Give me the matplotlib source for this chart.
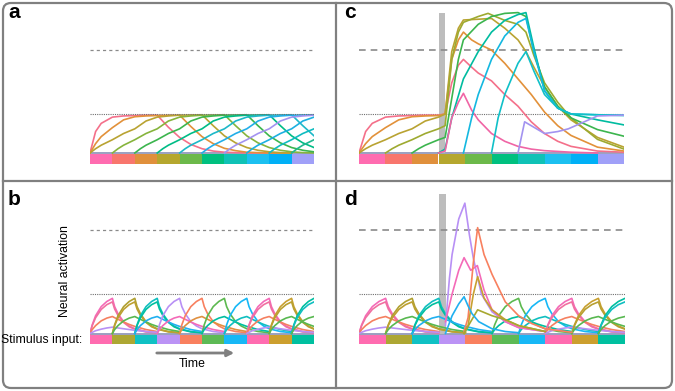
import matplotlib
matplotlib.use('Agg')
import matplotlib.pyplot as plt
from matplotlib.patches import FancyBboxPatch

plt.rcParams['font.family'] = ['Liberation Sans', 'DejaVu Sans']

# ---------------- data ----------------
# activation units: 0 = baseline, 1 = dotted threshold
DOTTED = 1.0
DASHED = 2.63

# stimulus strips (colour of each of the 10 stimuli)
strip_ac = ['#FF6CB0', '#F8766D', '#E0903C', '#B5A72E', '#6CB94A',
            '#00C07F', '#10C2B6', '#1CC0F0', '#00B0F6', '#A0A0F8']
strip_bd = ['#FF6CB0', '#ADA733', '#10C1C4', '#BB93F5', '#F9805F',
            '#5DBA55', '#17B8F6', '#FF6CB0', '#CC9F2E', '#00C0A0']

# panel a: slow neurons, values read at these offsets from each onset
a_knots = [0, 0.25, 0.5, 1, 1.5, 2, 2.5, 3, 3.5, 4, 4.5, 5, 5.5, 6, 6.5, 7, 7.5, 8, 8.5, 9]
a_onsets = [0, 0, 0, 1, 2, 3, 4, 5, 6, 7, 8, 9]
a_colors = ['#F4708A', '#E2913A', '#B9A332', '#86B43C', '#3CB54E', '#00BC86',
            '#1DB8C8', '#22AEE8', '#A393F0', '#1DB0E0', '#10BCC0', '#20B890']
a_first = [0, 0.55, 0.76, 0.92, 0.95, 0.96, 0.97, 0.97, 0.66, 0.4, 0.22, 0.11, 0.05,
           0.02, 0.01, 0, 0, 0, 0, 0]
a_second = [0, 0.24, 0.42, 0.65, 0.85, 0.93, 0.95, 0.96, 0.97, 0.97, 0.68, 0.42, 0.24,
            0.12, 0.06, 0.02, 0.01, 0, 0, 0]
a_rest = [0, 0.11, 0.2, 0.34, 0.5, 0.62, 0.82, 0.92, 0.95, 0.97, 0.975, 0.98, 0.7,
          0.44, 0.26, 0.14, 0.07, 0.03, 0.01, 0]

# panel c: activity after the distractor, per neuron (colour, x, y)
c_post = [
    ('#F4708A', [3.25, 3.5, 3.75, 3.94, 4.25, 4.5, 5.0, 5.5, 6.0, 6.5, 7.0, 7.5, 8.0, 9.0, 10],
     [1.0, 1.8, 2.25, 2.4, 2.2, 2.05, 1.85, 1.5, 1.2, 0.8, 0.5, 0.3, 0.17, 0.05, 0.02]),
    ('#E2913A', [3.25, 3.5, 3.75, 3.94, 4.25, 4.5, 5.0, 5.5, 6.0, 6.5, 7.0, 7.5, 8.0, 9.0, 10],
     [1.0, 2.4, 2.9, 3.1, 2.9, 2.8, 2.64, 2.3, 1.9, 1.5, 1.05, 0.7, 0.45, 0.15, 0.05]),
    ('#B9A332', [3.25, 3.5, 3.75, 3.94, 4.5, 5.0, 5.5, 6.0, 6.3, 6.6, 7.0, 7.5, 8.0, 9.0, 10],
     [1.0, 2.6, 3.2, 3.41, 3.43, 3.45, 3.2, 2.9, 2.6, 2.2, 1.7, 1.2, 0.85, 0.4, 0.15]),
    ('#9EAA30', [3.25, 3.5, 3.75, 3.94, 4.5, 4.87, 5.5, 6.0, 6.3, 6.6, 7.0, 7.5, 8.0, 9.0, 10],
     [0.7, 2.4, 3.1, 3.35, 3.5, 3.58, 3.4, 3.3, 3.1, 2.5, 1.8, 1.3, 0.9, 0.35, 0.1]),
    ('#3CB54E', [3.25, 3.5, 3.75, 3.94, 4.5, 5.0, 5.5, 6.0, 6.3, 6.6, 7.0, 7.5, 8.0, 9.0, 10],
     [0.4, 1.4, 2.4, 2.9, 3.3, 3.5, 3.58, 3.6, 3.5, 2.6, 1.7, 1.2, 0.9, 0.6, 0.43]),
    ('#00BCA0', [3.25, 3.5, 3.94, 4.5, 5.0, 5.5, 6.0, 6.3, 6.6, 7.0, 7.5, 8.0, 9.0, 10],
     [0.1, 0.9, 1.9, 2.6, 3.1, 3.4, 3.55, 3.6, 2.7, 1.6, 1.15, 1.0, 0.85, 0.72]),
]
c_new = [
    ('#F065A5', [3.0, 3.25, 3.5, 3.75, 3.94, 4.25, 4.5, 5.0, 5.5, 6.0, 6.5, 7.0, 8.0, 9.0],
     [0, 0.05, 0.9, 1.3, 1.53, 1.1, 0.85, 0.5, 0.3, 0.17, 0.1, 0.06, 0.02, 0]),
    ('#14B8E0', [3.94, 4.25, 4.5, 5.0, 5.5, 6.0, 6.3, 6.6, 7.0, 7.5, 8.0, 9.0, 10],
     [0, 0.9, 1.5, 2.4, 3.0, 3.35, 3.45, 2.6, 1.6, 1.15, 1.0, 0.98, 0.97]),
    ('#10C0C8', [5.0, 5.25, 5.5, 6.0, 6.3, 6.6, 7.0, 7.5, 8.0, 9.0, 10],
     [0, 0.9, 1.5, 2.3, 2.6, 2.1, 1.5, 1.15, 1.0, 0.98, 0.96]),
    ('#A393F0', [6.0, 6.25, 6.5, 7.0, 7.5, 7.9, 8.5, 9.0, 10],
     [0, 0.8, 0.7, 0.5, 0.55, 0.62, 0.8, 0.95, 0.97]),
]

# panels b and d: fast neurons, read profiles at offsets from onset
b_knots = [0, 0.1, 0.25, 0.5, 0.75, 1, 1.1, 1.25, 1.5, 1.75, 2, 2.5, 3]
b_profiles = {
    'p': [0, 0.22, 0.45, 0.68, 0.81, 0.89, 0.68, 0.5, 0.3, 0.19, 0.12, 0.05, 0.02],
    's': [0, 0.2, 0.4, 0.61, 0.73, 0.8, 0.62, 0.46, 0.28, 0.17, 0.11, 0.04, 0.02],
    't': [0, 0.1, 0.2, 0.32, 0.39, 0.43, 0.4, 0.36, 0.29, 0.23, 0.18, 0.1, 0.05],
    'w': [0, 0.03, 0.07, 0.11, 0.14, 0.16, 0.155, 0.14, 0.12, 0.1, 0.08, 0.05, 0.03],
}
# (onset, profile, colour)
b_curves = [
    (0, 'p', '#F46AB8'), (0, 's', '#F070A0'), (0, 't', '#F58060'), (0, 'w', '#B890F5'),
    (1, 'p', '#B0A030'), (1, 's', '#BCA030'), (1, 't', '#58B850'),
    (2, 'p', '#10BFC0'), (2, 's', '#00BFA0'), (2, 't', '#20B0F0'),
    (3, 'p', '#B890F5'), (3, 't', '#F46AB8'),
    (4, 'p', '#F8805F'), (4, 't', '#E09040'),
    (5, 'p', '#5DB950'), (5, 't', '#00BFA0'),
    (6, 'p', '#17B8F6'), (6, 't', '#10BFC0'),
    (7, 'p', '#F46AB8'), (7, 's', '#F070A0'), (7, 't', '#F58060'), (7, 'w', '#B890F5'),
    (8, 'p', '#C8A030'), (8, 's', '#B8A030'), (8, 't', '#58B850'),
    (9, 'p', '#00BFA0'), (9, 's', '#10BFC0'), (9, 't', '#58B850'),
]
# panel d: responses to the distractor
d_spikes = [
    ([3.25, 3.4, 3.5, 3.75, 3.98, 4.15, 4.3, 4.6, 5.0, 5.5, 6.0, 7.0],
     [0.2, 1.4, 2.0, 2.9, 3.3, 2.5, 1.9, 1.0, 0.55, 0.3, 0.15, 0.05], '#B890F5'),
    ([3.25, 3.5, 3.75, 3.95, 4.2, 4.45, 4.7, 5.0, 5.5, 6.0, 7.0],
     [0.3, 1.0, 1.6, 1.92, 1.6, 1.72, 1.1, 0.6, 0.3, 0.15, 0.05], '#F46AB8'),
    ([3.95, 4.1, 4.3, 4.46, 4.7, 5.0, 5.5, 6.0, 6.5, 7.0, 8.0],
     [0.05, 0.4, 1.8, 2.68, 2.0, 1.5, 0.8, 0.45, 0.25, 0.12, 0.03], '#F8805F'),
    ([3.95, 4.1, 4.3, 4.46, 4.7, 5.0, 5.5, 6.0, 7.0],
     [0.0, 0.2, 1.0, 1.44, 0.9, 0.6, 0.35, 0.2, 0.05], '#C8A030'),
    ([3.95, 4.2, 4.46, 5.0, 5.5, 6.0, 7.0],
     [0.0, 0.3, 0.6, 0.45, 0.35, 0.2, 0.05], '#A8A830'),
    ([3.25, 3.5, 3.75, 3.95, 4.1, 4.25, 4.5, 5.0, 5.5, 6.0],
     [0.0, 0.45, 0.75, 0.93, 0.7, 0.5, 0.3, 0.12, 0.05, 0.02], '#20B0F0'),
]
bar_x = 3.0
bar_w = 0.26
bar_top_c = 3.59
bar_top_d = 3.54

# ---------------- drawing ----------------
W, H = 675, 391
fig = plt.figure(figsize=(6.75, 3.91), dpi=100)

bg = fig.add_axes([0, 0, 1, 1])
bg.set_xlim(0, W)
bg.set_ylim(H, 0)
bg.axis('off')
bg.add_patch(FancyBboxPatch((3, 3), W - 6, H - 6, boxstyle='round,pad=0,rounding_size=8',
                            fc='white', ec='#808080', lw=1.6))
bg.plot([336, 336], [3, H - 3], color='#808080', lw=1.6)
bg.plot([3, W - 3], [181, 181], color='#808080', lw=1.6)
for lab, x, y in [('a', 8, 18.5), ('c', 344, 18.5), ('b', 8, 205), ('d', 344, 205)]:
    bg.text(x, y, lab, fontsize=15, fontweight='bold', va='baseline', ha='left')
bg.text(82, 340, 'Stimulus input:', fontsize=8.8, ha='right', va='center')
bg.text(65, 271, 'Neural activation', fontsize=8.8, rotation=90, ha='center', va='center')
bg.text(192, 364, 'Time', fontsize=8.8, ha='center', va='center')
bg.annotate('', xy=(237, 353), xytext=(154, 353),
            arrowprops=dict(arrowstyle='-|>', color='#808080', lw=2, mutation_scale=10))


def panel_ax(x0, x1, base, ppu, top, bot):
    ax = fig.add_axes([x0 / W, 1 - bot / H, (x1 - x0) / W, (bot - top) / H])
    ax.set_xlim(0, 10)
    ax.set_ylim((base - bot) / ppu, (base - top) / ppu)
    ax.axis('off')
    ax.patch.set_alpha(0)
    return ax


def draw_frame(ax, strip, y0, y1, dash_style):
    ax.bar(range(10), y1 - y0, bottom=y0, width=1, align='edge', color=strip, lw=0)
    ax.axhline(0, color='#9AA0C0', lw=1.4, zorder=1)
    ax.axhline(DOTTED, color='#707070', lw=0.8, ls=(0, (1, 1)), zorder=3)
    ax.axhline(DASHED, color='#8a8a8a', lw=dash_style[0], ls=(0, dash_style[1]), zorder=3)


def a_curve(k, xmax=10):
    prof = a_first if k == 0 else a_second if k == 1 else a_rest
    pts = [(a_onsets[k] + o, v) for o, v in zip(a_knots, prof) if a_onsets[k] + o <= xmax]
    return [p[0] for p in pts], [p[1] for p in pts]


def b_curve(on, prof):
    pts = [(on + o, v) for o, v in zip(b_knots, b_profiles[prof]) if on + o <= 10]
    return [p[0] for p in pts], [p[1] for p in pts]


LW = 1.2

# panel a
ax_a = panel_ax(90, 314, 153, 39, 6, 170)
draw_frame(ax_a, strip_ac, -0.03, -0.28, (0.9, (2.5, 2.5)))
for k in range(12):
    xs, ys = a_curve(k)
    ax_a.plot(xs, ys, color=a_colors[k], lw=LW)

# panel c
ax_c = panel_ax(359, 624, 153, 39, 6, 170)
draw_frame(ax_c, strip_ac, -0.03, -0.28, (1.2, (4, 3)))
ax_c.bar(bar_x, bar_top_c, width=bar_w, align='edge', color='#BDBDBD', lw=0, zorder=2)
for k, (col, px, py) in enumerate(c_post):
    xs, ys = a_curve(k, xmax=3.0)
    ax_c.plot(xs + px, ys + py, color=col, lw=LW, zorder=4)
for col, px, py in c_new:
    ax_c.plot(px, py, color=col, lw=LW, zorder=4)

# panel b
ax_b = panel_ax(90, 314, 333.5, 39.5, 186, 350)
draw_frame(ax_b, strip_bd, -0.013, -0.27, (0.9, (2.5, 2.5)))
for on, prof, col in b_curves:
    xs, ys = b_curve(on, prof)
    ax_b.plot(xs, ys, color=col, lw=LW)

# panel d
ax_d = panel_ax(359, 625, 333.5, 39.5, 186, 350)
draw_frame(ax_d, strip_bd, -0.013, -0.27, (1.2, (4, 3)))
ax_d.bar(bar_x, bar_top_d, width=bar_w, align='edge', color='#BDBDBD', lw=0, zorder=2)
for on, prof, col in b_curves:
    if on in (3, 4):
        continue
    xs, ys = b_curve(on, prof)
    ax_d.plot(xs, ys, color=col, lw=LW, zorder=4)
for xs, ys, col in d_spikes:
    ax_d.plot(xs, ys, color=col, lw=LW, zorder=4)

fig.savefig('out.png', dpi=100)
